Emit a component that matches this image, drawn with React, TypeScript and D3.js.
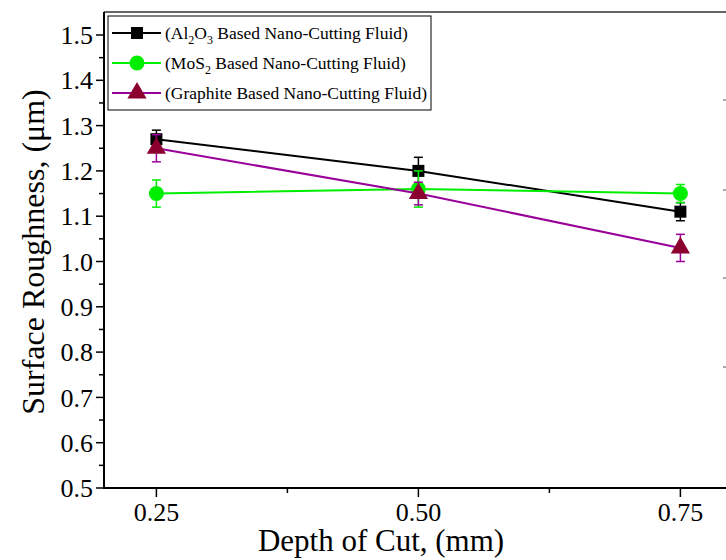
import React from "react";
import * as d3 from "d3";

const depths = [0.25, 0.5, 0.75];
const al2o3 = [1.27, 1.2, 1.11];
const al2o3Err = [0.02, 0.03, 0.02];
const mos2 = [1.15, 1.16, 1.15];
const mos2Err = [0.03, 0.04, 0.02];
const graphite = [1.25, 1.15, 1.03];
const graphiteErr = [0.03, 0.025, 0.03];
const yTicks = [0.5, 0.6, 0.7, 0.8, 0.9, 1.0, 1.1, 1.2, 1.3, 1.4, 1.5];
const xTicks = [0.25, 0.5, 0.75];

const W = 726, H = 560;
const left = 104, top = 12, bottom = 488;

const x = d3.scaleLinear().domain([0.2, 0.8]).range([left, left + 1048 * 0.6]);
const y = d3.scaleLinear().domain([0.5, 1.5]).range([bottom, bottom - 453]);

const FONT = "Liberation Serif, DejaVu Serif, Times New Roman, serif";
const fs = (size: number) => ({ fontFamily: FONT, fontSize: size });

type S = { name: string; vals: number[]; errs: number[]; line: string; fill: string; errColor: string; shape: string };
const series: S[] = [
  { name: "al", vals: al2o3, errs: al2o3Err, line: "#000000", fill: "#000000", errColor: "#000000", shape: "square" },
  { name: "mos", vals: mos2, errs: mos2Err, line: "#00ee00", fill: "#00ee00", errColor: "#00ee00", shape: "circle" },
  { name: "gr", vals: graphite, errs: graphiteErr, line: "#990099", fill: "#8c0030", errColor: "#990099", shape: "triangle" },
];

function Marker({ shape, cx, cy, fill }: { shape: string; cx: number; cy: number; fill: string }) {
  if (shape === "square") return <rect x={cx - 6} y={cy - 6} width={12} height={12} fill={fill} />;
  if (shape === "circle") return <circle cx={cx} cy={cy} r={7.5} fill={fill} />;
  const p = d3.symbol(d3.symbolTriangle, 160)();
  return <path d={p || ""} transform={`translate(${cx},${cy})`} fill={fill} />;
}

export default function App() {
  const line = d3.line<number>().x((_, i) => x(depths[i])).y((v) => y(v));
  const minorY = d3.range(0.55, 1.55, 0.1);
  const minorX = [0.375, 0.625];
  return (
    <svg width={W} height={H} style={{ position: "absolute", left: 0, top: 0, background: "#fff" }}>
      <rect x={0} y={0} width={W} height={H} fill="#fff" />
      {/* frame */}
      <line x1={left} y1={top} x2={W} y2={top} stroke="#333" strokeWidth={1.5} />
      <line x1={left} y1={top} x2={left} y2={bottom} stroke="#000" strokeWidth={2} />
      <line x1={left - 1} y1={bottom} x2={W} y2={bottom} stroke="#000" strokeWidth={2} />
      {/* y ticks */}
      {yTicks.map((t) => (
        <g key={"y" + t}>
          <line x1={left - 8} x2={left} y1={y(t)} y2={y(t)} stroke="#000" strokeWidth={1.5} />
          <text x={left - 11} y={y(t)} dy="0.35em" textAnchor="end" style={fs(26)}>{t.toFixed(1)}</text>
        </g>
      ))}
      {minorY.map((t) => (
        <line key={"my" + t} x1={left - 5} x2={left} y1={y(t)} y2={y(t)} stroke="#000" strokeWidth={1.5} />
      ))}
      {/* x ticks */}
      {xTicks.map((t) => (
        <g key={"x" + t}>
          <line x1={x(t)} x2={x(t)} y1={bottom} y2={bottom + 9} stroke="#000" strokeWidth={1.5} />
          <text x={x(t)} y={bottom + 33} textAnchor="middle" style={fs(26)}>{t.toFixed(2)}</text>
        </g>
      ))}
      {minorX.map((t) => (
        <line key={"mx" + t} x1={x(t)} x2={x(t)} y1={bottom} y2={bottom + 5} stroke="#000" strokeWidth={1.5} />
      ))}
      {/* right edge marks */}
      {[100, 190, 278, 367].map((v) => (
        <line key={"r" + v} x1={723} x2={726} y1={v} y2={v} stroke="#555" strokeWidth={1} />
      ))}
      {/* axis titles */}
      <text x={381} y={551} textAnchor="middle" style={fs(31)}>Depth of Cut, (mm)</text>
      <text transform={`translate(44,252) rotate(-90)`} textAnchor="middle" style={fs(32)}>Surface Roughness, (μm)</text>
      {/* series */}
      {series.map((s) => (
        <g key={s.name}>
          <path d={line(s.vals) || ""} fill="none" stroke={s.line} strokeWidth={2} />
          {s.vals.map((v, i) => {
            const cx = x(depths[i]);
            const y1 = y(v + s.errs[i]);
            const y2 = y(v - s.errs[i]);
            return (
              <g key={i} stroke={s.errColor} strokeWidth={1.5}>
                <line x1={cx} x2={cx} y1={y1} y2={y2} />
                <line x1={cx - 4.5} x2={cx + 4.5} y1={y1} y2={y1} />
                <line x1={cx - 4.5} x2={cx + 4.5} y1={y2} y2={y2} />
              </g>
            );
          })}
          {s.vals.map((v, i) => (
            <Marker key={"m" + i} shape={s.shape} cx={x(depths[i])} cy={y(v)} fill={s.fill} />
          ))}
        </g>
      ))}
      {/* legend */}
      <rect x={108} y={16} width={323} height={94} fill="#fff" stroke="#000" strokeWidth={1} />
      {series.map((s, i) => {
        const ly = 33 + i * 30;
        return (
          <g key={"lg" + s.name}>
            <line x1={112} x2={161} y1={ly} y2={ly} stroke={s.line} strokeWidth={2} />
            <Marker shape={s.shape} cx={137} cy={ly} fill={s.fill} />
            <text x={165} y={ly} dy="0.36em" style={fs(17.5)}>
              {i === 0 && (<>(Al<tspan dy={5} fontSize={12}>2</tspan><tspan dy={-5}>O</tspan><tspan dy={5} fontSize={12}>3</tspan><tspan dy={-5}> Based Nano-Cutting Fluid)</tspan></>)}
              {i === 1 && (<>(MoS<tspan dy={5} fontSize={12}>2</tspan><tspan dy={-5}> Based Nano-Cutting Fluid)</tspan></>)}
              {i === 2 && "(Graphite Based Nano-Cutting Fluid)"}
            </text>
          </g>
        );
      })}
    </svg>
  );
}
